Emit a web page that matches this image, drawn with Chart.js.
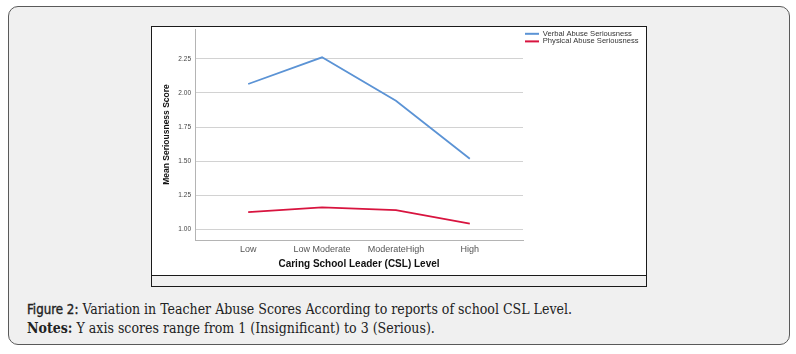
<!DOCTYPE html>
<html>
<head>
<meta charset="utf-8">
<script src="https://cdn.jsdelivr.net/npm/chart.js@4.4.1/dist/chart.umd.min.js"></script>
<style>
  html, body { margin: 0; padding: 0; background: #ffffff; }
  body { width: 796px; height: 354px; position: relative; overflow: hidden; }
  #frame { position: absolute; left: 8px; top: 6px; width: 780px; height: 337px;
    border: 1.5px solid #5a5a5a; border-radius: 10px; background: #f0f0f0; }
  #box { position: absolute; left: 151px; top: 26px; width: 494px; height: 259px;
    border: 1px solid #1a1a1a; background: #f0f0f0; }
  #plotbg { position: absolute; left: 0; top: 0; width: 494px; height: 248px;
    background: #ffffff; border-bottom: 1px solid #1a1a1a; }
  #wrap { position: absolute; left: 152px; top: 27px; width: 494px; height: 248px; }
  #cap { position: absolute; left: 27px; top: 300px; font-family: "DejaVu Serif Condensed", "DejaVu Serif", serif;
    font-size: 14px; line-height: 18px; color: #222; }
  #cap .fig { font-family: "DejaVu Sans Condensed", "DejaVu Sans", sans-serif; font-weight: normal; font-size: 13.2px;
    color: #222; -webkit-text-stroke: 0.35px #222; }
  #cap b { font-weight: bold; }
</style>
</head>
<body>
<div id="frame"></div>
<div id="box"><div id="plotbg"></div></div>
<div id="wrap"><canvas id="c" width="494" height="248"></canvas></div>
<div id="cap">
  <div><span class="fig">Figure 2:</span> Variation in Teacher Abuse Scores According to reports of school CSL Level.</div>
  <div><b>Notes:</b> Y axis scores range from 1 (Insignificant) to 3 (Serious).</div>
</div>
<script>
const categories = ["Low", "Low Moderate", "ModerateHigh", "High"];
const verbalAbuse = [2.066, 2.262, 1.943, 1.517];
const physicalAbuse = [1.125, 1.159, 1.140, 1.041];
const yTicks = [1.00, 1.25, 1.50, 1.75, 2.00, 2.25];
const seriesNames = ["Verbal Abuse Seriousness", "Physical Abuse Seriousness"];

const toPoints = arr => arr.map((v, i) => ({ x: i, y: v }));

const legendPlacePlugin = {
  id: 'legendPlace',
  beforeUpdate(chart) {
    const lg = chart.legend;
    if (lg && !lg._wrapped) {
      const orig = lg.fit.bind(lg);
      lg.fit = function () { orig(); this.width = 123; };
      lg._wrapped = true;
    }
  },
  afterLayout(chart) {
    const lg = chart.legend;
    if (lg) { lg.top += 1; lg.bottom += 1; lg.left += 2; lg.right += 2; }
  }
};

new Chart(document.getElementById('c'), {
  type: 'line',
  data: {
    datasets: [
      { label: seriesNames[0], data: toPoints(verbalAbuse), borderColor: '#5b93d5', backgroundColor: '#5b93d5',
        borderWidth: 1.8, pointRadius: 0, tension: 0 },
      { label: seriesNames[1], data: toPoints(physicalAbuse), borderColor: '#d8143f', backgroundColor: '#d8143f',
        borderWidth: 1.8, pointRadius: 0, tension: 0 }
    ]
  },
  options: {
    responsive: false,
    animation: false,
    layout: { padding: { top: 2, left: 0, right: 0, bottom: 0 } },
    plugins: {
      tooltip: { enabled: false },
      legend: {
        position: 'right', align: 'start',
        labels: {
          boxWidth: 14, boxHeight: 2, padding: 0,
          color: '#333', font: { family: 'Liberation Sans, Arial, sans-serif', size: 7.6 },
          generateLabels(chart) {
            return chart.data.datasets.map((d, i) => ({
              text: d.label, fillStyle: d.borderColor, strokeStyle: d.borderColor, lineWidth: 0,
              hidden: false, datasetIndex: i, fontColor: '#333'
            }));
          }
        }
      }
    },
    scales: {
      x: {
        type: 'linear', min: -0.72, max: 3.72,
        afterFit(s) { s.height = 35; s.paddingLeft = 0; s.paddingRight = 0; },
        afterBuildTicks(s) { s.ticks = categories.map((c, i) => ({ value: i })); },
        ticks: { callback: v => categories[v], color: '#555', padding: 4, maxRotation: 0, autoSkip: false,
          font: { family: 'Liberation Sans, Arial, sans-serif', size: 9 } },
        grid: { display: false, drawTicks: false },
        border: { color: '#b4b4b4', width: 1 },
        title: { display: true, text: 'Caring School Leader (CSL) Level', color: '#111',
          font: { family: 'Liberation Sans, Arial, sans-serif', size: 10, weight: 'bold' }, padding: { top: 0, bottom: 5 } }
      },
      y: {
        min: 0.92, max: 2.47,
        afterFit(s) { s.width = 43; s.paddingTop = 0; s.paddingBottom = 0; },
        afterBuildTicks(s) { s.ticks = yTicks.map(v => ({ value: v })); },
        ticks: { callback: v => v.toFixed(2), color: '#444', padding: 4,
          font: { family: 'Liberation Sans, Arial, sans-serif', size: 6.5 } },
        grid: { color: '#d2d2d2', drawTicks: false, lineWidth: 1 },
        border: { color: '#b4b4b4', width: 1 },
        title: { display: true, text: 'Mean Seriousness Score', color: '#111',
          font: { family: 'Liberation Sans, Arial, sans-serif', size: 8.5, weight: 'bold' }, padding: { top: 10, bottom: 0 } }
      }
    }
  },
  plugins: [legendPlacePlugin]
});
</script>
</body>
</html>
